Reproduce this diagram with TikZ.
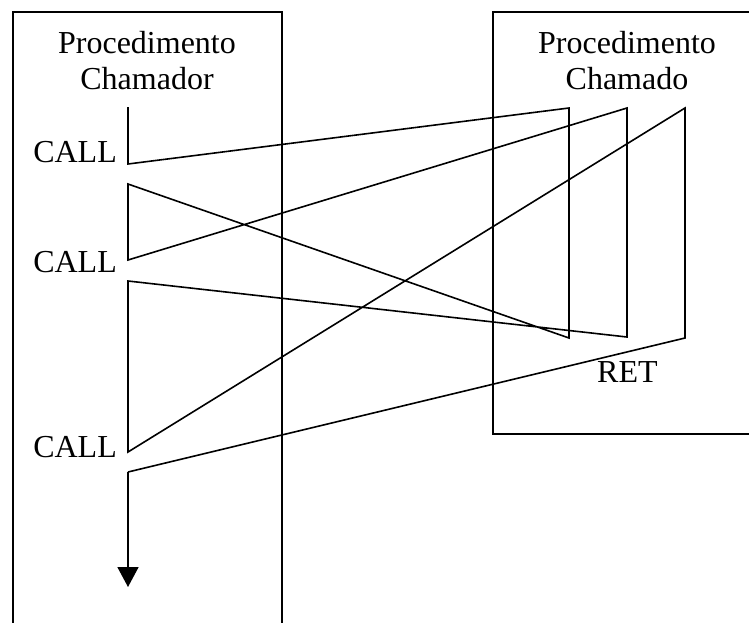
\documentclass[tikz,border=0pt]{standalone}
\usepackage{fontspec}
\setmainfont{Liberation Serif}
\usetikzlibrary{arrows.meta}
\begin{document}
\begin{tikzpicture}[x=1pt,y=-1pt,
  frame/.style={line width=1.6pt},
  flow/.style={line width=1.6pt, line join=miter},
  lbl/.style={font=\fontsize{32}{36}\selectfont, inner sep=0pt},
  title/.style={lbl, align=center, anchor=base}]
\useasboundingbox (0,0) rectangle (749,622);

% procedure frames
\draw[frame] (13,640) -- (13,12) -- (282,12) -- (282,640);
\draw[frame] (760,12) -- (493,12) -- (493,434) -- (760,434);

% titles
\node[title] (t1) at (147,53) {Procedimento};
\node[title] (t2) at (147,89) {Chamador};
\node[title] (t3) at (627,53) {Procedimento};
\node[title] (t4) at (627,89) {Chamado};

% instruction labels
\node[lbl, anchor=base east] (c1) at (117,162) {CALL};
\node[lbl, anchor=base east] (c2) at (117,272) {CALL};
\node[lbl, anchor=base east] (c3) at (117,457) {CALL};
\node[lbl, anchor=base west] (r) at (597,382) {RET};

% caller flow points
\coordinate (s0) at (128,107);
\coordinate (a1) at (128,164);
\coordinate (b1) at (128,184);
\coordinate (a2) at (128,260);
\coordinate (b2) at (128,281);
\coordinate (a3) at (128,452);
\coordinate (b3) at (128,472);
\coordinate (end) at (128,587);

% callee entry/return points
\coordinate (e1) at (569,108);
\coordinate (x1) at (569,338);
\coordinate (e2) at (627,108);
\coordinate (x2) at (627,337);
\coordinate (e3) at (685,108);
\coordinate (x3) at (685,338);

\draw[flow] (s0) -- (a1) -- (e1) -- (x1) -- (b1) -- (a2) -- (e2) -- (x2)
  -- (b2) -- (a3) -- (e3) -- (x3) -- (b3);
\draw[flow, -{Triangle[length=20pt,width=21pt]}] (b3) -- (end);
\end{tikzpicture}
\end{document}
